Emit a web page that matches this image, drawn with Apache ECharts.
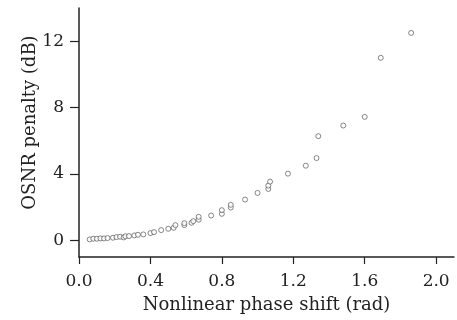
<!DOCTYPE html>
<html><head><meta charset="utf-8">
<script src="https://cdn.jsdelivr.net/npm/echarts@6/dist/echarts.min.js"></script>
<style>html,body{margin:0;padding:0;background:#fff}#c{width:457px;height:320px}</style>
</head><body><div id="c"></div>
<script>
const phaseShift = [0.06,0.08,0.10,0.12,0.14,0.16,0.19,0.21,0.23,0.25,0.26,0.28,0.31,0.33,0.36,0.40,0.42,0.46,0.50,0.53,0.54,0.59,0.59,0.63,0.64,0.67,0.67,0.74,0.80,0.80,0.85,0.85,0.93,1.00,1.06,1.06,1.07,1.17,1.27,1.33,1.34,1.48,1.60,1.69,1.86];
const osnrPenalty = [0.06,0.10,0.10,0.12,0.12,0.14,0.16,0.20,0.22,0.18,0.25,0.26,0.30,0.34,0.36,0.44,0.50,0.62,0.70,0.76,0.92,0.92,1.04,1.06,1.16,1.25,1.42,1.50,1.60,1.82,1.98,2.14,2.46,2.86,3.10,3.30,3.54,4.02,4.50,4.96,6.28,6.92,7.44,11.0,12.5];
const xTicks = [0,0.4,0.8,1.2,1.6,2.0];
const yTicks = [0,4,8,12];
const xName = 'Nonlinear phase shift (rad)';
const yName = 'OSNR penalty (dB)';

const pts = phaseShift.map((x,i)=>[x, osnrPenalty[i]]);
const font = 'DejaVu Serif';
const chart = echarts.init(document.getElementById('c'));
chart.setOption({
  animation:false,
  grid:{left:79,right:3,top:8,bottom:63,containLabel:false,outerBoundsMode:'none'},
  xAxis:{type:'value',min:0,max:2.1,
    name:xName,nameLocation:'middle',nameGap:39,nameMoveOverlap:false,
    nameTextStyle:{fontFamily:font,fontSize:18,color:'#222'},
    axisLine:{show:true,onZero:false,lineStyle:{color:'#222',width:1.5}},
    axisTick:{show:true,length:7,customValues:xTicks,lineStyle:{color:'#222',width:1.2}},
    axisLabel:{customValues:xTicks,fontFamily:font,fontSize:17,color:'#222',margin:16,
      formatter:v=>v.toFixed(1)},
    splitLine:{show:false}},
  yAxis:{type:'value',min:-1,max:14,
    name:yName,nameLocation:'middle',nameGap:40,nameMoveOverlap:false,
    nameTextStyle:{fontFamily:font,fontSize:18,color:'#222',padding:[0,0,0,20]},
    axisLine:{show:true,onZero:false,lineStyle:{color:'#222',width:1.5}},
    axisTick:{show:true,length:9,customValues:yTicks,lineStyle:{color:'#222',width:1.2}},
    axisLabel:{customValues:yTicks,fontFamily:font,fontSize:17,color:'#222',margin:15},
    splitLine:{show:false}},
  series:[{type:'scatter',data:pts,symbol:'circle',symbolSize:5,
    itemStyle:{color:'#fff',borderColor:'#444',borderWidth:0.8}}]
});
</script></body></html>
